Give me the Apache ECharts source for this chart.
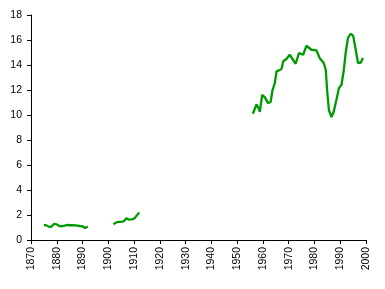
<!DOCTYPE html>
<html>
<head>
<meta charset="utf-8">
<script src="https://cdn.jsdelivr.net/npm/echarts@6/dist/echarts.min.js"></script>
<style>
html,body{margin:0;padding:0;background:#fff;}
#c{width:385px;height:289px;}
</style>
</head>
<body>
<div id="c"></div>
<script>
// Period 1: 1875-1892
var years1 = [1875,1876,1877,1878,1879,1880,1881,1882,1883,1884,1885,1886,1887,1888,1889,1890,1891,1892];
var values1 = [1.2,1.17,1.05,1.08,1.3,1.25,1.12,1.1,1.15,1.2,1.18,1.18,1.17,1.15,1.12,1.1,0.95,1.08];
// Period 2: 1902-1912
var years2 = [1902,1903,1904,1905,1906,1907,1908,1909,1910,1911,1912];
var values2 = [1.26,1.4,1.45,1.45,1.5,1.74,1.63,1.65,1.7,1.95,2.2];
// Period 3: 1956-1999
var years3 = [1956.1,1956.5,1957.5,1958.2,1958.8,1959.7,1960.7,1962,1963,1963.7,1964.6,1965.3,1966.3,1967.2,1967.9,1969.2,1970.4,1971.1,1972.7,1974,1975.6,1976.9,1978.8,1980.8,1982,1983.6,1984.4,1984.9,1985.6,1986.6,1987.5,1988.5,1989.5,1990.5,1991.4,1992.1,1993,1994,1995,1995.9,1996.9,1998,1998.8];
var values3 = [10.1,10.2,10.85,10.6,10.26,11.6,11.43,10.95,11.06,11.96,12.55,13.5,13.57,13.68,14.3,14.5,14.82,14.74,14.1,14.96,14.82,15.54,15.22,15.17,14.56,14.16,13.6,12.0,10.4,9.83,10.28,11.2,12.15,12.42,13.6,14.96,16.16,16.5,16.35,15.36,14.16,14.2,14.56];

var xMin = 1870, xMax = 2000, xStep = 10;
var yMin = 0, yMax = 18, yStep = 2;

function pairs(xs, ys){ return xs.map(function(x,i){ return [x, ys[i]]; }); }

var lineColor = '#009900';
function mkSeries(xs, ys){
  return {
    type: 'line',
    data: pairs(xs, ys),
    showSymbol: false,
    symbol: 'none',
    lineStyle: { color: lineColor, width: 2.3 },
    itemStyle: { color: lineColor },
    animation: false
  };
}

var chart = echarts.init(document.getElementById('c'), null, {renderer: 'canvas'});
var font = 'Liberation Sans, Arial, sans-serif';
chart.setOption({
  animation: false,
  grid: { left: 31, right: 19, top: 15, bottom: 49, containLabel: false },
  xAxis: {
    type: 'value', min: xMin, max: xMax, interval: xStep,
    axisLine: { show: true, lineStyle: { color: '#000', width: 1 } },
    axisTick: { show: true, inside: false, length: 4, lineStyle: { color: '#000' } },
    splitLine: { show: false },
    axisLabel: { rotate: 90, margin: 7, color: '#000', fontSize: 10.5, fontFamily: font,
      formatter: function(v){ return String(v); } }
  },
  yAxis: {
    type: 'value', min: yMin, max: yMax, interval: yStep,
    axisLine: { show: true, lineStyle: { color: '#000', width: 1 } },
    axisTick: { show: true, inside: false, length: 4, lineStyle: { color: '#000' } },
    splitLine: { show: false },
    axisLabel: { margin: 9, color: '#000', fontSize: 10.5, fontFamily: font }
  },
  series: [mkSeries(years1, values1), mkSeries(years2, values2), mkSeries(years3, values3)]
});
</script>
</body>
</html>
